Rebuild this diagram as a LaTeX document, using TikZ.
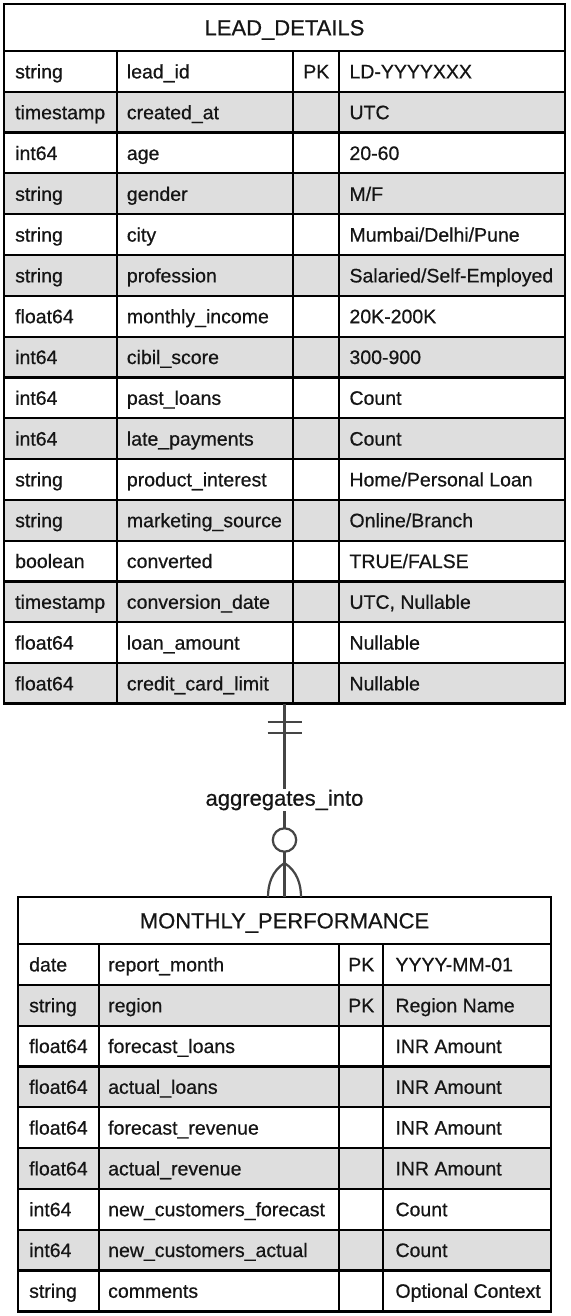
\documentclass[tikz,border=0pt]{standalone}
\usepackage{fontspec}
\setmainfont{Liberation Sans}[FakeBold=0.6]
\definecolor{rowgray}{HTML}{DEDEDE}
\definecolor{linkgray}{HTML}{454545}
\definecolor{ink}{HTML}{151515}
\newcommand\ertrow[5]{%
  \pgfmathsetmacro\ya{\TY+#1*\RH}%
  \pgfmathsetmacro\yb{\ya+\RH}%
  \pgfmathsetmacro\yc{\ya+\RH/2+7}%
  \ifodd#1\relax \fill[rowgray] (\TL,\ya) rectangle (\TR,\yb);\fi
  \node[cell] (\TN-#1-type) at (\TL+\PA,\yc) {#2};
  \node[cell] (\TN-#1-name) at (\CA+\PB,\yc) {#3};
  \node[cellc] (\TN-#1-key) at ({(\CB+\CC)/2},\yc) {#4};
  \node[cell] (\TN-#1-val) at (\CC+\PC,\yc) {#5};
}
\begin{document}
\begin{tikzpicture}[x=1pt,y=-1pt,
  cell/.style={anchor=base west,inner sep=0pt,text=ink,font=\fontsize{19.5}{22}\selectfont},
  cellc/.style={cell,anchor=base},
  titletext/.style={anchor=base,inner sep=0pt,text=ink,font=\fontsize{22}{26}\selectfont},
  gridline/.style={line width=2.2pt,black},
  tablebox/.style={draw=black,line width=2.8pt,rectangle,inner sep=0pt,outer sep=0pt},
  link/.style={draw=linkgray,line width=2.2pt},
  linklabel/.style={fill=white,inner sep=1pt,text=ink,font=\fontsize{22}{26}\selectfont}]
\useasboundingbox (0,0) rectangle (570,1316);
\fill[white] (0,0) rectangle (570,1316);

% ---------- LEAD_DETAILS ----------
\def\TN{ld}\def\TL{4}\def\TR{565}\def\TY{51}\def\RH{40.8}
\def\CA{116.7}\def\CB{293.3}\def\CC{339.3}
\def\PA{11}\def\PB{10}\def\PC{10}
\ertrow{0}{string}{lead\_id}{PK}{LD-YYYYXXX}
\ertrow{1}{timestamp}{created\_at}{}{UTC}
\ertrow{2}{int64}{age}{}{20-60}
\ertrow{3}{string}{gender}{}{M/F}
\ertrow{4}{string}{city}{}{Mumbai/Delhi/Pune}
\ertrow{5}{string}{profession}{}{Salaried/Self-Employed}
\ertrow{6}{float64}{monthly\_income}{}{20K-200K}
\ertrow{7}{int64}{cibil\_score}{}{300-900}
\ertrow{8}{int64}{past\_loans}{}{Count}
\ertrow{9}{int64}{late\_payments}{}{Count}
\ertrow{10}{string}{product\_interest}{}{Home/Personal Loan}
\ertrow{11}{string}{marketing\_source}{}{Online/Branch}
\ertrow{12}{boolean}{converted}{}{TRUE/FALSE}
\ertrow{13}{timestamp}{conversion\_date}{}{UTC, Nullable}
\ertrow{14}{float64}{loan\_amount}{}{Nullable}
\ertrow{15}{float64}{credit\_card\_limit}{}{Nullable}
\foreach \r in {0,...,15} \draw[gridline] (\TL,\TY+\r*\RH) -- (\TR,\TY+\r*\RH);
\foreach \cx in {\CA,\CB,\CC} \draw[gridline] (\cx,\TY) -- (\cx,703.8);
\node[titletext] (ld-title) at (284.5,35.4) {LEAD\_DETAILS};
\node[tablebox,minimum width=561pt,minimum height=699.8pt] (lead) at (284.5,353.9) {};

% ---------- MONTHLY_PERFORMANCE ----------
\def\TN{mp}\def\TL{18}\def\TR{551}\def\TY{944}\def\RH{40.8}
\def\CA{99}\def\CB{339.3}\def\CC{383.3}
\def\PA{11}\def\PB{9}\def\PC{12}
\ertrow{0}{date}{report\_month}{PK}{YYYY-MM-01}
\ertrow{1}{string}{region}{PK}{Region Name}
\ertrow{2}{float64}{forecast\_loans}{}{INR Amount}
\ertrow{3}{float64}{actual\_loans}{}{INR Amount}
\ertrow{4}{float64}{forecast\_revenue}{}{INR Amount}
\ertrow{5}{float64}{actual\_revenue}{}{INR Amount}
\ertrow{6}{int64}{new\_customers\_forecast}{}{Count}
\ertrow{7}{int64}{new\_customers\_actual}{}{Count}
\ertrow{8}{string}{comments}{}{Optional Context}
\foreach \r in {0,...,8} \draw[gridline] (\TL,\TY+\r*\RH) -- (\TR,\TY+\r*\RH);
\foreach \cx in {\CA,\CB,\CC} \draw[gridline] (\cx,\TY) -- (\cx,1311.2);
\node[titletext] (mp-title) at (284.5,928.4) {MONTHLY\_PERFORMANCE};
\node[tablebox,minimum width=533pt,minimum height=414.2pt] (mp) at (284.5,1104.1) {};

% ---------- relationship ----------
\coordinate (apex) at (284.5,863);
\draw[link] (lead.south) -- (284.5,828.3);
\draw[link] (284.5,851.7) -- (mp.north);
\draw[link] (267.5,721.7) -- (301.5,721.7);
\draw[link] (267.5,733.3) -- (301.5,733.3);
\draw[link] (284.5,840) circle (11.7);
\draw[link] (apex) .. controls (272,871) and (268,884) .. (268,897);
\draw[link] (apex) .. controls (297,871) and (301,884) .. (301,897);
\node[linklabel] (rel) at (284.5,800) {aggregates\_into};
\end{tikzpicture}
\end{document}
